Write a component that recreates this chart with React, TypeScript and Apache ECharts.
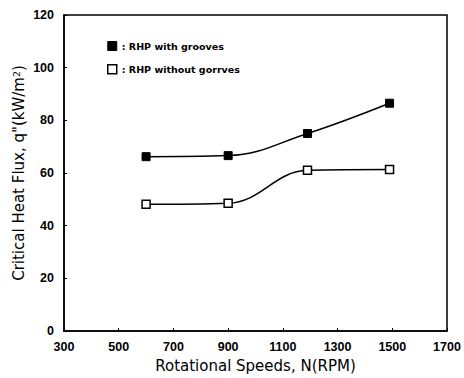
import React, { useEffect, useRef } from "react";
import * as echarts from "echarts";

const speedsA = [600, 900, 1190, 1490];
const withGrooves = [66.2, 66.6, 75, 86.5];
const speedsB = [600, 900, 1190, 1490];
const withoutGrooves = [48.1, 48.5, 61, 61.3];
const nameA = ": RHP with grooves";
const nameB = ": RHP without gorrves";

export default function App() {
  const ref = useRef<HTMLDivElement>(null);
  useEffect(() => {
    document.body.style.margin = "0";
    const chart = echarts.init(ref.current!, null, { renderer: "svg" });
    const font = "Liberation Sans, Arial, sans-serif";
    const wide = "DejaVu Sans, sans-serif";
    chart.setOption({
      animation: false,
      backgroundColor: "#fff",
      textStyle: { fontFamily: font },
      grid: {
        left: 64, right: 17, top: 15, bottom: 47,
        outerBoundsMode: "none", containLabel: false,
        show: true, borderColor: "#000", borderWidth: 1.5,
      },
      legend: {
        orient: "vertical",
        left: 102,
        top: 36,
        itemGap: 13,
        itemWidth: 9,
        itemHeight: 9,
        textStyle: { fontFamily: wide, fontSize: 9.5, color: "#000", fontWeight: "bold" },
        data: [
          { name: nameA, icon: "rect", itemStyle: { color: "#000", borderColor: "#000", borderWidth: 1 } },
          { name: nameB, icon: "rect", itemStyle: { color: "#fff", borderColor: "#000", borderWidth: 1.5 } },
        ],
      },
      xAxis: {
        type: "value",
        min: 300,
        max: 1700,
        interval: 200,
        name: "Rotational Speeds, N(RPM)",
        nameLocation: "middle",
        nameGap: 27,
        nameTextStyle: { fontFamily: wide, fontSize: 15, color: "#000" },
        axisLine: { lineStyle: { color: "#000", width: 1.5 } },
        axisTick: { inside: true, length: 3, lineStyle: { color: "#000" } },
        axisLabel: { color: "#000", fontSize: 12.5, fontWeight: "bold", fontFamily: font, margin: 9, formatter: (v: number) => String(v) },
        splitLine: { show: false },
      },
      yAxis: {
        type: "value",
        min: 0,
        max: 120,
        interval: 20,
        name: "{a|Critical Heat Flux, q\"(kW/m}{s|2}{a|)}",
        nameLocation: "middle",
        nameGap: 37,
        nameMoveOverlap: false,
        nameTextStyle: {
          fontFamily: wide,
          color: "#000",
          rich: {
            a: { fontSize: 15, fontFamily: wide, color: "#000" },
            s: { fontSize: 9.5, fontFamily: wide, color: "#000", verticalAlign: "top", padding: [0, 0, 6, 0] },
          },
        },
        axisLine: { lineStyle: { color: "#000", width: 1.5 } },
        axisTick: { inside: true, length: 3, lineStyle: { color: "#000" } },
        axisLabel: { color: "#000", fontSize: 12.5, fontWeight: "bold", fontFamily: font, margin: 10, formatter: (v: number) => String(v) },
        splitLine: { show: false },
      },
      series: [
        {
          name: nameA,
          type: "line",
          smooth: 0.4,
          data: speedsA.map((x, i) => [x, withGrooves[i]]),
          symbol: "rect",
          symbolSize: 8,
          lineStyle: { color: "#000", width: 1.5 },
          itemStyle: { color: "#000", borderColor: "#000", borderWidth: 1 },
        },
        {
          name: nameB,
          type: "line",
          smooth: 0.4,
          data: speedsB.map((x, i) => [x, withoutGrooves[i]]),
          symbol: "rect",
          symbolSize: 8,
          lineStyle: { color: "#000", width: 1.5 },
          itemStyle: { color: "#fff", borderColor: "#000", borderWidth: 1.5 },
        },
      ],
    });
    return () => chart.dispose();
  }, []);
  return <div ref={ref} style={{ width: 464, height: 378 }} />;
}
